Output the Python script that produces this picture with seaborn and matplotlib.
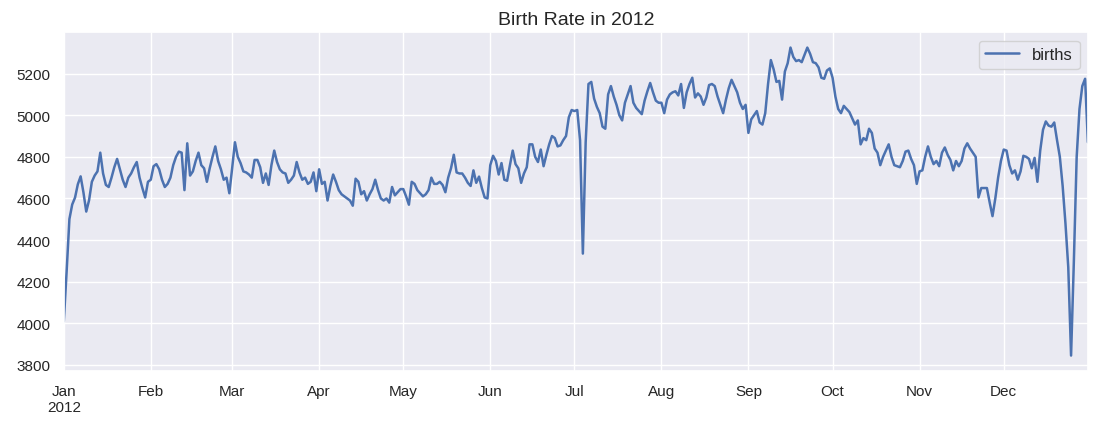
import pandas as pd
import seaborn as sns
import matplotlib.pyplot as plt
import matplotlib.dates as mdates
from matplotlib.ticker import FuncFormatter

# Mean births per calendar day (one list per month)
jan = [4009, 4247, 4501, 4571, 4604, 4668, 4706, 4629, 4537, 4591, 4680, 4710, 4730, 4820, 4720, 4665,
       4655, 4700, 4750, 4790, 4740, 4690, 4655, 4700, 4720, 4750, 4775, 4700, 4650, 4605, 4680]
feb = [4690, 4755, 4765, 4740, 4690, 4655, 4670, 4700, 4760, 4800, 4825, 4820, 4640, 4865, 4710, 4730,
       4780, 4820, 4760, 4745, 4680, 4745, 4800, 4850, 4780, 4740, 4690, 4700, 4625]
mar = [4745, 4870, 4800, 4770, 4730, 4725, 4715, 4700, 4785, 4785, 4750, 4675, 4720, 4665, 4760, 4830,
       4775, 4740, 4725, 4720, 4675, 4690, 4710, 4775, 4725, 4690, 4700, 4670, 4680, 4725, 4635]
apr = [4740, 4670, 4680, 4590, 4660, 4715, 4680, 4640, 4620, 4610, 4600, 4590, 4565, 4695, 4680, 4620,
       4635, 4590, 4620, 4645, 4690, 4640, 4600, 4590, 4600, 4580, 4655, 4615, 4630, 4645]
may = [4645, 4610, 4570, 4680, 4670, 4640, 4625, 4610, 4620, 4640, 4700, 4670, 4670, 4680, 4665, 4630,
       4700, 4745, 4810, 4725, 4720, 4720, 4700, 4675, 4660, 4735, 4675, 4705, 4650, 4605, 4600]
jun = [4760, 4805, 4780, 4715, 4770, 4690, 4685, 4760, 4830, 4765, 4745, 4675, 4720, 4750, 4860, 4860,
       4800, 4775, 4835, 4755, 4810, 4860, 4900, 4890, 4850, 4855, 4880, 4900, 4990, 5025]
jul = [5020, 5025, 4880, 4335, 4870, 5150, 5160, 5080, 5040, 5010, 4945, 4935, 5100, 5140, 5090, 5050,
       5000, 4975, 5060, 5100, 5140, 5060, 5035, 5020, 5005, 5070, 5115, 5155, 5110, 5070, 5060]
aug = [5060, 5010, 5075, 5100, 5110, 5115, 5095, 5150, 5035, 5110, 5150, 5180, 5085, 5105, 5090, 5050,
       5085, 5145, 5150, 5140, 5090, 5050, 5010, 5075, 5130, 5170, 5140, 5110, 5060, 5030, 5050]
sep = [4915, 4980, 5000, 5020, 4965, 4955, 5010, 5150, 5265, 5220, 5160, 5165, 5075, 5210, 5250, 5325,
       5280, 5260, 5265, 5255, 5290, 5325, 5295, 5255, 5250, 5230, 5180, 5175, 5215, 5225]
oct_ = [5180, 5090, 5030, 5010, 5045, 5030, 5015, 4985, 4955, 4975, 4860, 4890, 4880, 4935, 4915, 4840,
        4820, 4760, 4800, 4830, 4860, 4800, 4760, 4755, 4750, 4780, 4825, 4830, 4790, 4760, 4670]
nov = [4730, 4735, 4800, 4850, 4800, 4765, 4780, 4755, 4820, 4845, 4810, 4785, 4735, 4780, 4755, 4780,
       4840, 4865, 4840, 4820, 4800, 4605, 4650, 4650, 4650, 4580, 4515, 4600, 4700, 4780]
dec = [4835, 4830, 4760, 4720, 4735, 4690, 4730, 4805, 4800, 4790, 4745, 4795, 4680, 4830, 4930, 4970,
       4950, 4945, 4965, 4880, 4800, 4660, 4480, 4270, 3845, 4300, 4800, 5030, 5140, 5175, 4870]

births = jan + feb + mar + apr + may + jun + jul + aug + sep + oct_ + nov + dec
dates = pd.date_range('2012-01-01', '2012-12-31', freq='D')
df = pd.DataFrame({'date': dates, 'births': births})

sns.set_theme()
plt.rcParams['font.family'] = ['Liberation Sans', 'DejaVu Sans']

fig, ax = plt.subplots(figsize=(11, 4.31), dpi=100)
fig.subplots_adjust(left=0.058, right=0.989, top=0.923, bottom=0.137)

sns.lineplot(data=df, x='date', y='births', ax=ax, label='births', color='#4C72B0', linewidth=1.8)

ax.set_xlim(dates[0], dates[-1])
ax.xaxis.set_major_locator(mdates.MonthLocator())


def month_label(x, pos):
    d = mdates.num2date(x)
    if d.month == 1:
        return d.strftime('%b\n%Y')
    return d.strftime('%b')


ax.xaxis.set_major_formatter(FuncFormatter(month_label))
ax.tick_params(axis='both', labelsize=11)
for lbl in ax.get_xticklabels():
    lbl.set_horizontalalignment('center')

ax.set_xlabel('')
ax.set_ylabel('')
ax.set_title('Birth Rate in 2012', fontsize=14)
ax.legend(loc='upper right', fontsize=12)

plt.savefig('out.png')
